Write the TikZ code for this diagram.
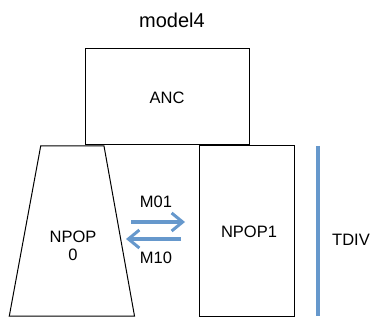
\documentclass[tikz,border=0pt]{standalone}
\usepackage{fontspec}
\setmainfont{Liberation Sans}
\usetikzlibrary{arrows.meta}
\definecolor{tblue}{RGB}{102,152,204}
\begin{document}
\begin{tikzpicture}[x=1pt,y=-1pt,
  box/.style={draw=black,line width=1pt},
  lbl/.style={font=\fontsize{16.5}{18.5}\selectfont,inner sep=0pt,align=center},
  mig/.style={draw=tblue,line width=3.2pt,-{Straight Barb[length=11pt,width=18pt,line width=3pt]}}]
\useasboundingbox (0,0) rectangle (374,320);
\node[font=\fontsize{20}{23}\selectfont,inner sep=0pt] (title) at (172,20) {model4};
\draw[box] (85,49) rectangle (249,145);
\node[lbl] (anc) at (167,98) {ANC};
\draw[box] (40.7,146) -- (104,146) -- (134.5,316) -- (9.3,316) -- cycle;
\node[lbl] (npop0) at (73,246) {NPOP\\0};
\draw[box] (199,146) rectangle (294,316);
\node[lbl] (npop1) at (249,232) {NPOP1};
\draw[draw=tblue,line width=3.5pt] (318,146) -- (318,316);
\node[lbl] (tdiv) at (351,240) {TDIV};
\coordinate (a1s) at (131,222);
\coordinate (a1e) at (185,222);
\coordinate (a2s) at (181,239);
\coordinate (a2e) at (126,239);
\draw[mig] (a1s) -- (a1e);
\draw[mig] (a2s) -- (a2e);
\node[lbl] (m01) at (156,202) {M01};
\node[lbl] (m10) at (156,258) {M10};
\end{tikzpicture}
\end{document}
